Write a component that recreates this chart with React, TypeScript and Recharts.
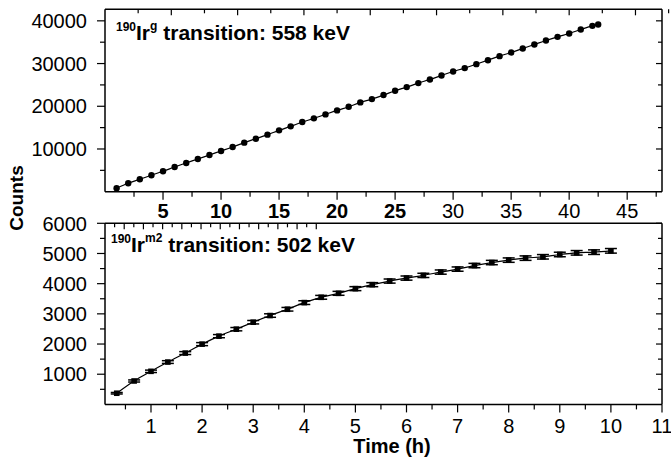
import React from 'react';
import { ComposedChart, Line, XAxis, YAxis, ErrorBar } from 'recharts';

// upper panel: 558 keV line of the ground state
const TOP_TIME = [
  1, 2, 3, 4, 5, 6, 7, 8, 9, 10, 11, 12, 13, 14, 15, 16, 17, 18, 19, 20, 21,
  22, 23, 24, 25, 26, 27, 28, 29, 30, 31, 32, 33, 34, 35, 36, 37, 38, 39, 40,
  41, 42, 42.5,
];
const TOP_COUNTS = [
  810, 1980, 2910, 3850, 4780, 5790, 6730, 7660, 8600, 9530, 10470, 11480,
  12410, 13350, 14360, 15300, 16310, 17170, 18100, 19030, 19890, 20900, 21680,
  22620, 23630, 24490, 25420, 26280, 27210, 28150, 28930, 29860, 30790, 31730,
  32590, 33520, 34460, 35390, 36250, 37030, 37960, 38820, 39130,
];

// lower panel: 502 keV line of the m2 isomer
const BOT_TIME = [
  0.33, 0.67, 1, 1.33, 1.67, 2, 2.33, 2.67, 3, 3.33, 3.67, 4, 4.33, 4.67, 5,
  5.33, 5.67, 6, 6.33, 6.67, 7, 7.33, 7.67, 8, 8.33, 8.67, 9, 9.33, 9.67, 10,
];
const BOT_COUNTS = [
  370, 776, 1096, 1403, 1700, 1997, 2261, 2492, 2723, 2944, 3152, 3373, 3548,
  3680, 3835, 3967, 4086, 4185, 4274, 4384, 4483, 4600, 4700, 4780, 4846,
  4890, 4967, 5022, 5044, 5088,
];
const BOT_ERR = [
  25, 35, 40, 45, 48, 50, 52, 55, 57, 58, 60, 62, 63, 65, 66, 67, 68, 69, 70,
  70, 71, 72, 72, 73, 74, 74, 75, 75, 76, 76,
];

const TOP_X_TICKS = [2.5, 5, 7.5, 10, 12.5, 15, 17.5, 20, 22.5, 25, 27.5, 30, 32.5, 35, 37.5, 40, 42.5, 45, 47.5];
const TOP_Y_TICKS = [5000, 10000, 15000, 20000, 25000, 30000, 35000, 40000];
const BOT_X_TICKS = [0.5, 1, 1.5, 2, 2.5, 3, 3.5, 4, 4.5, 5, 5.5, 6, 6.5, 7, 7.5, 8, 8.5, 9, 9.5, 10, 10.5, 11];
const BOT_Y_TICKS = [500, 1000, 1500, 2000, 2500, 3000, 3500, 4000, 4500, 5000, 5500, 6000];

const topData = TOP_TIME.map((t, i) => ({ t, c: TOP_COUNTS[i] }));
const botData = BOT_TIME.map((t, i) => ({ t, c: BOT_COUNTS[i], e: BOT_ERR[i] }));

const FONT = '"Liberation Sans", Arial, Helvetica, sans-serif';
const AXIS_LINE = { stroke: '#000', strokeWidth: 1.5 };

type Side = 'left' | 'right' | 'top' | 'bottom';

function makeTick(
  side: Side,
  isMajor: (v: number) => boolean,
  opts: { labels?: boolean; offset?: number; bold?: (v: number) => boolean } = {}
) {
  const outward = side === 'left' || side === 'bottom';
  const majorLen = outward ? 8 : 6;
  const minorLen = outward ? 5 : 4;
  return (p: any) => {
    const v = p.payload.value;
    const major = isMajor(v);
    const len = major ? majorLen : minorLen;
    const { x, y } = p;
    let line;
    if (side === 'left' || side === 'right') {
      line = <line x1={x} y1={y} x2={x - len} y2={y} stroke="#000" strokeWidth={1.2} />;
    } else {
      line = <line x1={x} y1={y} x2={x} y2={y + len} stroke="#000" strokeWidth={1.2} />;
    }
    let label = null;
    if (opts.labels && major) {
      const weight = opts.bold && opts.bold(v) ? 'bold' : 'normal';
      if (side === 'left') {
        label = (
          <text x={x - 18} y={y} dy="0.36em" textAnchor="end" fontSize={20} fontFamily={FONT} fontWeight={weight} fill="#000">
            {v}
          </text>
        );
      } else {
        label = (
          <text x={x} y={y + (opts.offset ?? 27)} textAnchor="middle" fontSize={20} fontFamily={FONT} fontWeight={weight} fill="#000">
            {v}
          </text>
        );
      }
    }
    return (
      <g>
        {line}
        {label}
      </g>
    );
  };
}

const common = { tickSize: 0, tickMargin: 0, tickLine: false, interval: 0 as const, axisLine: AXIS_LINE, allowDataOverflow: true };

function TopPanel() {
  return (
    <ComposedChart width={671} height={222} data={topData} margin={{ top: 9.3, right: 9, bottom: 4.3, left: 0 }}>
      <XAxis
        {...common}
        xAxisId="b"
        dataKey="t"
        type="number"
        domain={[0, 48]}
        ticks={TOP_X_TICKS}
        height={26}
        tick={makeTick('bottom', (v) => v % 5 === 0, { labels: true, offset: 26.5, bold: (v) => v <= 25 })}
      />
      <XAxis
        {...common}
        xAxisId="t"
        orientation="top"
        mirror
        type="number"
        domain={[0, 48]}
        ticks={TOP_X_TICKS}
        tick={makeTick('top', (v) => v % 5 === 0)}
      />
      <YAxis
        {...common}
        yAxisId="l"
        type="number"
        domain={[0, 42700]}
        ticks={TOP_Y_TICKS}
        width={105}
        tick={makeTick('left', (v) => v % 10000 === 0, { labels: true })}
      />
      <YAxis
        {...common}
        yAxisId="r"
        orientation="right"
        mirror
        type="number"
        domain={[0, 42700]}
        ticks={TOP_Y_TICKS}
        tick={makeTick('right', (v) => v % 10000 === 0)}
      />
      <Line
        xAxisId="b"
        yAxisId="l"
        dataKey="c"
        type="monotone"
        stroke="#000"
        strokeWidth={1.2}
        isAnimationActive={false}
        dot={(p: any) => <circle key={p.index} cx={p.cx} cy={p.cy} r={3.2} fill="#000" stroke="none" />}
        activeDot={false}
      />
    </ComposedChart>
  );
}

function BottomPanel() {
  return (
    <ComposedChart width={671} height={263} data={botData} margin={{ top: 23.3, right: 9, bottom: 28.6, left: 0 }}>
      <XAxis
        {...common}
        xAxisId="b"
        dataKey="t"
        type="number"
        domain={[0.1, 11]}
        ticks={BOT_X_TICKS}
        height={30}
        tick={makeTick('bottom', (v) => v % 1 === 0, { labels: true, offset: 28.5 })}
      />
      <XAxis
        {...common}
        xAxisId="t"
        orientation="top"
        mirror
        type="number"
        domain={[0.1, 11]}
        ticks={BOT_X_TICKS}
        tick={makeTick('top', (v) => v % 1 === 0)}
      />
      <YAxis
        {...common}
        yAxisId="l"
        type="number"
        domain={[0, 6000]}
        ticks={BOT_Y_TICKS}
        width={105}
        tick={makeTick('left', (v) => v % 1000 === 0, { labels: true })}
      />
      <YAxis
        {...common}
        yAxisId="r"
        orientation="right"
        mirror
        type="number"
        domain={[0, 6000]}
        ticks={BOT_Y_TICKS}
        tick={makeTick('right', (v) => v % 1000 === 0)}
      />
      <Line
        xAxisId="b"
        yAxisId="l"
        dataKey="c"
        type="monotone"
        stroke="#000"
        strokeWidth={1.2}
        isAnimationActive={false}
        dot={(p: any) => <rect key={p.index} x={p.cx - 2.8} y={p.cy - 2.8} width={5.6} height={5.6} fill="#000" />}
        activeDot={false}
      >
        <ErrorBar dataKey="e" direction="y" width={6} stroke="#000" strokeWidth={1.5} />
      </Line>
    </ComposedChart>
  );
}

export default function App() {
  return (
    <div style={{ position: 'absolute', left: 0, top: 0, width: 671, height: 463, background: '#fff' }}>
      <div style={{ position: 'absolute', left: 0, top: 0 }}>
        <TopPanel />
      </div>
      <div style={{ position: 'absolute', left: 0, top: 200 }}>
        <BottomPanel />
      </div>
      <svg width={671} height={463} style={{ position: 'absolute', left: 0, top: 0, pointerEvents: 'none' }}>
        <g fontFamily={FONT} fontWeight="bold" fill="#000">
          <text x={116} y={39.5} fontSize={21}>
            <tspan fontSize={12} dy={-9}>190</tspan>
            <tspan dy={9}>Ir</tspan>
            <tspan fontSize={12} dy={-10}>g</tspan>
            <tspan dy={10}> transition: 558 keV</tspan>
          </text>
          <text x={111} y={251.5} fontSize={21}>
            <tspan fontSize={12} dy={-9}>190</tspan>
            <tspan dy={9}>Ir</tspan>
            <tspan fontSize={12} dy={-10}>m2</tspan>
            <tspan dy={10}> transition: 502 keV</tspan>
          </text>
          <text x={23} y={198} fontSize={19} textAnchor="middle" transform="rotate(-90 23 198)">
            Counts
          </text>
          <text x={392} y={453} fontSize={20} textAnchor="middle">
            Time (h)
          </text>
        </g>
      </svg>
    </div>
  );
}
